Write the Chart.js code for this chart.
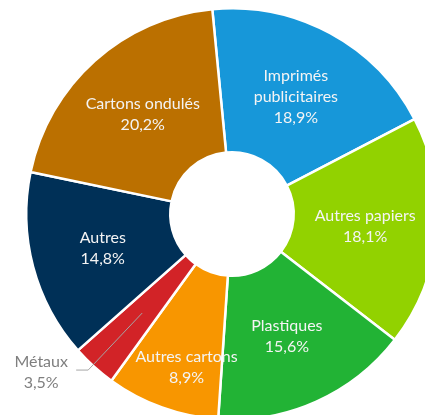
<!DOCTYPE html>
<html>
<head>
<meta charset="utf-8">
<script src="https://cdn.jsdelivr.net/npm/chart.js@4/dist/chart.umd.min.js"></script>
<style>
  html, body { margin: 0; padding: 0; overflow: hidden; background: #fff; width: 425px; height: 415px; }
  #wrap { position: absolute; left: 0; top: 0; width: 464px; height: 428px; }
</style>
</head>
<body>
<div id="wrap"><canvas id="donut"></canvas></div>
<script>
const categories = [
  ["Imprimés", "publicitaires"],
  ["Autres papiers"],
  ["Plastiques"],
  ["Autres cartons"],
  ["Métaux"],
  ["Autres"],
  ["Cartons ondulés"],
];
const shares = [18.9, 18.1, 15.6, 8.9, 3.5, 14.8, 20.2];
const colors = [
  "rgb(23, 151, 217)",
  "rgb(146, 210, 0)",
  "rgb(34, 179, 53)",
  "rgb(248, 150, 0)",
  "rgb(210, 35, 39)",
  "rgb(0, 48, 87)",
  "rgb(187, 112, 0)",
];

const fmt = (v) => v.toFixed(1).replace(".", ",") + "%";

// label tweaks, index -> pixel shift / outside label with leader line
const labelShift = { 3: { dx: 0, dy: 28 } };
const outside = { 4: { elbowDx: -54, elbowDy: 57, tailDx: -12 } };

const sliceLabels = {
  id: "sliceLabels",
  afterDatasetsDraw(chart) {
    const ctx = chart.ctx;
    const meta = chart.getDatasetMeta(0);
    const lineH = 21;
    ctx.save();
    ctx.font = "16px Lato";
    ctx.textAlign = "center";
    ctx.textBaseline = "middle";
    meta.data.forEach((arc, i) => {
      const pos = arc.tooltipPosition();
      const lines = [...categories[i], fmt(shares[i])];
      let x = pos.x, y = pos.y;
      if (outside[i]) {
        const o = outside[i];
        const ex = x + o.elbowDx, ey = y + o.elbowDy;
        ctx.strokeStyle = "#a6a6a6";
        ctx.lineWidth = 1;
        ctx.beginPath();
        ctx.moveTo(x, y);
        ctx.lineTo(ex, ey);
        ctx.lineTo(ex + o.tailDx, ey);
        ctx.stroke();
        ctx.fillStyle = "#7f7f7f";
        const tx = ex + o.tailDx - 35;
        const ty = ey + 2;
        lines.forEach((t, k) => {
          ctx.fillText(t, tx, ty + (k - (lines.length - 1) / 2) * lineH);
        });
        return;
      }
      if (labelShift[i]) {
        x += labelShift[i].dx;
        y += labelShift[i].dy;
      }
      ctx.fillStyle = "#f4f4f4";
      lines.forEach((t, k) => {
        ctx.fillText(t, x, y + (k - (lines.length - 1) / 2) * lineH);
      });
    });
    ctx.restore();
  },
};

new Chart(document.getElementById("donut"), {
  type: "doughnut",
  data: {
    labels: categories,
    datasets: [
      {
        data: shares,
        backgroundColor: colors,
        borderColor: "#ffffff",
        borderWidth: 2.5,
      },
    ],
  },
  options: {
    responsive: true,
    maintainAspectRatio: false,
    animation: false,
    devicePixelRatio: 1,
    cutout: "30%",
    rotation: -5.5,
    layout: { padding: { left: 25, right: 25, top: 7, bottom: 7 } },
    plugins: {
      legend: { display: false },
      tooltip: { enabled: false },
    },
  },
  plugins: [sliceLabels],
});
</script>
</body>
</html>
